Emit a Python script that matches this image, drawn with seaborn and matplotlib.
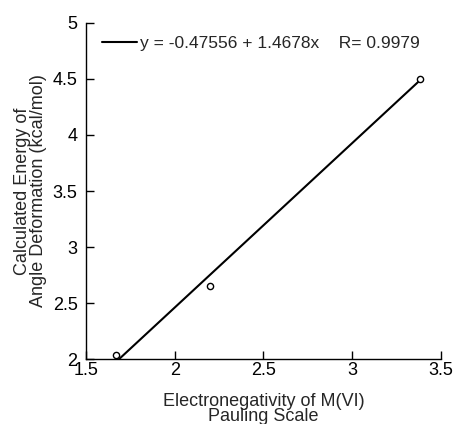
import matplotlib
matplotlib.use("Agg")
import matplotlib.pyplot as plt
import seaborn as sns
import numpy as np
import pandas as pd

# data
electroneg = [1.67, 2.20, 3.38]
energy = [2.04, 2.65, 4.50]
intercept = -0.47556
slope = 1.4678
r_value = 0.9979

sns.set_style("ticks")
plt.rcParams['font.family'] = ['Liberation Sans', 'DejaVu Sans']

fig = plt.figure(figsize=(4.57, 4.24), dpi=100)
ax = fig.add_axes([0.188, 0.153, 0.777, 0.793])

pts = pd.DataFrame({"x": electroneg, "y": energy})
x_fit = np.array([min(electroneg), max(electroneg)])
fit = pd.DataFrame({"x": x_fit, "y": intercept + slope * x_fit})

label = f"y = {intercept:.5f} + {slope:.4f}x    R= {r_value}"
sns.lineplot(data=fit, x="x", y="y", ax=ax, color="black", lw=1.5, label=label)
sns.scatterplot(data=pts, x="x", y="y", ax=ax, s=20, facecolor="white",
                edgecolor="black", linewidth=1.0, zorder=3)

ax.set_xlim(1.5, 3.5)
ax.set_ylim(2, 5)
ax.set_xticks([1.5, 2, 2.5, 3, 3.5])
ax.set_xticklabels(["1.5", "2", "2.5", "3", "3.5"])
ax.set_yticks([2, 2.5, 3, 3.5, 4, 4.5, 5])
ax.set_yticklabels(["2", "2.5", "3", "3.5", "4", "4.5", "5"])
ax.tick_params(direction="in", length=6, width=1, labelsize=13, colors="black")
ax.tick_params(axis="x", pad=2)
ax.tick_params(axis="y", pad=6)

for s in ["top", "right"]:
    ax.spines[s].set_visible(False)
for s in ["left", "bottom"]:
    ax.spines[s].set_linewidth(1.0)
    ax.spines[s].set_color("black")

ax.set_xlabel("Electronegativity of M(VI)\nPauling Scale", fontsize=13, linespacing=0.85, labelpad=10)
ax.set_ylabel("Calculated Energy of\nAngle Deformation (kcal/mol)", fontsize=13, linespacing=0.95, labelpad=4)

ax.legend(loc="center left", frameon=False, fontsize=12.5, handlelength=2.0,
          handletextpad=0.17, borderpad=0, borderaxespad=0, bbox_to_anchor=(0.045, 0.94))

fig.savefig("out.png", dpi=100)
